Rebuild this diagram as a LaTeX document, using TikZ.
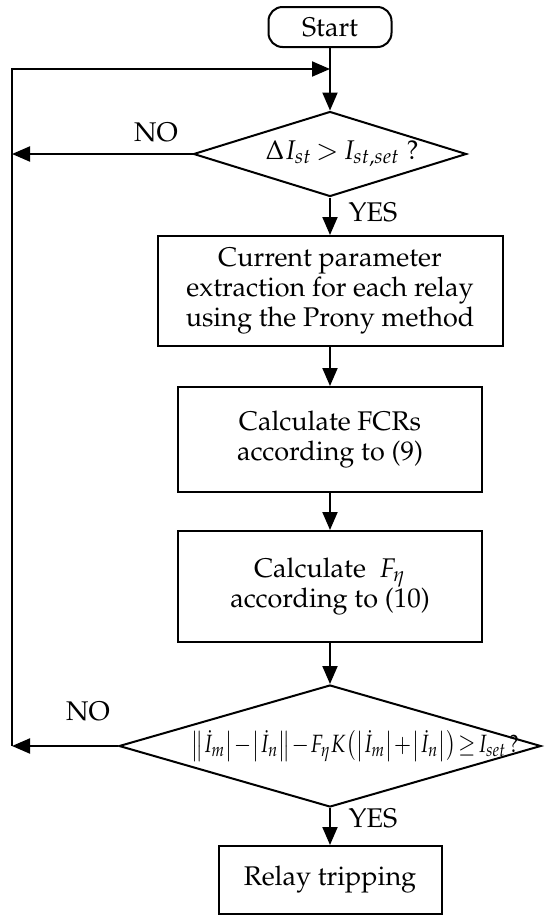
\documentclass[tikz,border=0pt]{standalone}
\usepackage[T1]{fontenc}
\usepackage{mathpazo}
\usepackage{amsmath}
\usepackage{amssymb}
\usetikzlibrary{shapes.geometric,arrows.meta}

\begin{document}
\begin{tikzpicture}[x=0.5pt,y=-0.5pt,line width=1pt,
    font=\fontsize{13.5}{15}\selectfont,
    >={Triangle[length=9pt,width=7.5pt]},
    startbox/.style={draw,rounded corners=7pt,minimum width=61.5pt,minimum height=20pt,inner sep=0pt},
    procbox/.style={draw,align=center,inner sep=0pt,minimum width=152pt},
    decision/.style={draw,shape=diamond,inner sep=0pt}]
  \useasboundingbox (0,0) rectangle (550,922);
  \node[startbox] (start) at (330,27) {Start};
  \node[decision,minimum width=136.5pt,minimum height=42.5pt] (check1) at (330,154) {};
  \node (cond1) at (342,154) {$\medmuskip=2mu\thickmuskip=3mu\Delta I_{st} > I_{st,set}$ ?};
  \node[procbox,minimum width=172.5pt,minimum height=55pt] (extract) at (330,291)
    {Current parameter\\ extraction for each relay\\ using the Prony method};
  \node[procbox,minimum height=52.5pt] (fcr) at (330,439.5) {Calculate FCRs\\ according to (9)};
  \node[procbox,minimum height=55.5pt] (feta) at (330,586.5) {Calculate \ $F_\eta$\\ according to (10)};
  \node[decision,minimum width=211pt,minimum height=61pt] (check2) at (330,746) {};
  \node (cond2) at (355,746) {\scalebox{0.84}[1]{\fontsize{12.5}{14}\selectfont$\medmuskip=1mu\thickmuskip=2mu
    \bigl\|\dot{I}_m\bigr|-\bigl|\dot{I}_n\bigr\|-F_\eta K\bigl(\bigl|\dot{I}_m\bigr|+\bigl|\dot{I}_n\bigr|\bigr)\geq I_{set}$\,?}};
  \node[draw,minimum width=111.5pt,minimum height=34pt,inner sep=0pt] (trip) at (330,880) {Relay tripping};
  \node (no1) at (156,132) {NO};
  \node (no2) at (88,711) {NO};
  \node[anchor=west] (yes1) at (341,212) {YES};
  \node[anchor=west] (yes2) at (341,818) {YES};
  \coordinate (noend1) at (12,154);
  \coordinate (noend2) at (12,746);
  \coordinate (looptop) at (12,69);
  \coordinate (loopin) at (330,69);
  \draw[->] (start.south) -- (check1.north);
  \draw[->] (check1.south) -- (extract.north);
  \draw[->] (extract.south) -- (fcr.north);
  \draw[->] (fcr.south) -- (feta.north);
  \draw[->] (feta.south) -- (check2.north);
  \draw[->] (check2.south) -- (trip.north);
  \draw[->] (check1.west) -- (noend1);
  \draw[->] (check2.west) -- (noend2);
  \draw[->] (noend2) -- (looptop) -- (loopin);
\end{tikzpicture}
\end{document}
